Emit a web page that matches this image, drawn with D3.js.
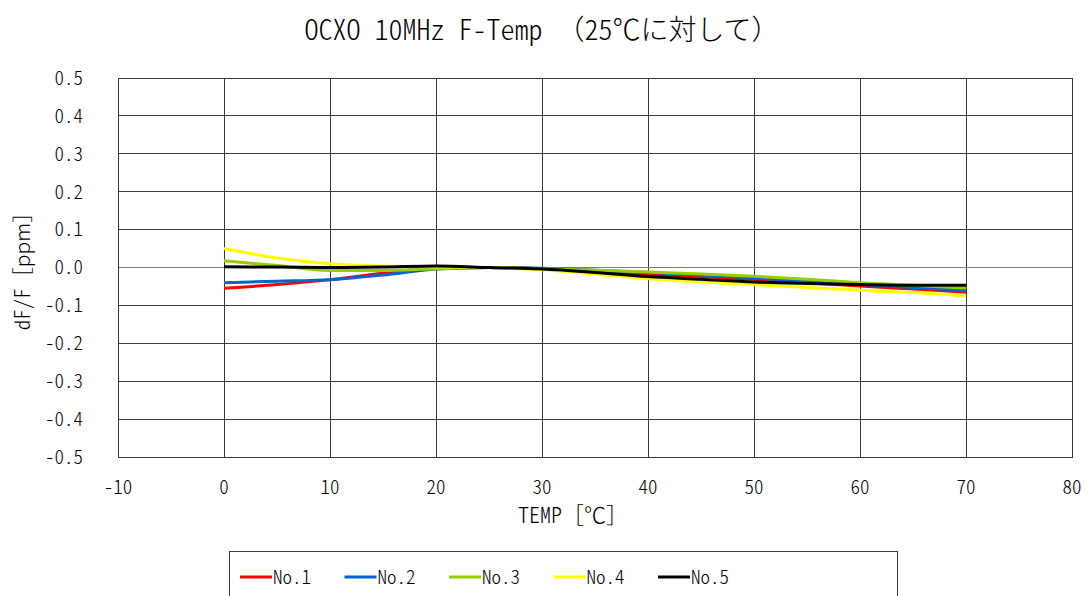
<!DOCTYPE html>
<html>
<head>
<meta charset="utf-8">
<script src="https://cdn.jsdelivr.net/npm/d3@7"></script>
<style>
  body { margin: 0; background: #fff; }
  text { font-family: "Noto Sans CJK JP", sans-serif; font-weight: 300; fill: #000; }
  .hw { font-feature-settings: "hwid"; }
</style>
</head>
<body>
<div id="chart"></div>
<script>
(function() {
    'use strict';

    // data
    const temps = [0, 5, 10, 15, 20, 25, 30, 35, 40, 45, 50, 55, 60, 65, 70];
    const no1 = [-0.055, -0.045, -0.032, -0.015, -0.002, 0, -0.004, -0.010, -0.018, -0.024, -0.031, -0.040, -0.049, -0.057, -0.065];
    const no2 = [-0.040, -0.036, -0.032, -0.020, -0.004, 0, -0.002, -0.007, -0.013, -0.020, -0.028, -0.036, -0.045, -0.053, -0.061];
    const no3 = [0.018, 0.005, -0.008, -0.008, -0.003, 0, -0.003, -0.007, -0.012, -0.017, -0.023, -0.031, -0.040, -0.047, -0.054];
    const no4 = [0.050, 0.025, 0.010, 0.004, 0.002, 0, -0.006, -0.017, -0.030, -0.038, -0.045, -0.053, -0.060, -0.066, -0.075];
    const no5 = [0.002, 0.001, 0.000, 0.001, 0.004, 0, -0.004, -0.013, -0.024, -0.031, -0.038, -0.042, -0.045, -0.047, -0.047];
    const seriesNames = ['No.1', 'No.2', 'No.3', 'No.4', 'No.5'];
    const seriesColors = ['#ff0000', '#0066cc', '#99cc00', '#ffff00', '#000000'];
    const xTicks = [-10, 0, 10, 20, 30, 40, 50, 60, 70, 80];
    const yTicks = [-0.5, -0.4, -0.3, -0.2, -0.1, 0, 0.1, 0.2, 0.3, 0.4, 0.5];

    const allSeries = [no1, no2, no3, no4, no5].map((vals, i) => ({
        name: seriesNames[i],
        color: seriesColors[i],
        points: temps.map((t, j) => ({ t: t, v: vals[j] }))
    }));

    const width = 1088, height = 596;
    const plot = { left: 118, right: 1072, top: 78, bottom: 457 };

    const svg = d3.select('#chart').append('svg')
        .attr('width', width)
        .attr('height', height);

    const x = d3.scaleLinear().domain([-10, 80]).range([plot.left, plot.right]);
    const y = d3.scaleLinear().domain([-0.5, 0.5]).range([plot.bottom, plot.top]);
    const fmtY = d => d3.format('.1f')(d).replace('−', '-');
    const fmtX = d => String(d);

    // mixed text: latin parts half-width, japanese parts full-width
    const mixedText = (sel, parts) => {
        parts.forEach(p => {
            sel.append('tspan').attr('class', p[1] ? 'hw' : null).text(p[0]);
        });
        return sel;
    };

    // gridlines
    svg.append('g').selectAll('line').data(xTicks).enter().append('line')
        .attr('x1', d => x(d)).attr('x2', d => x(d))
        .attr('y1', plot.top).attr('y2', plot.bottom)
        .attr('stroke', '#3a3a3a').attr('stroke-width', 1)
        .attr('shape-rendering', 'crispEdges');

    svg.append('g').selectAll('line').data(yTicks).enter().append('line')
        .attr('x1', plot.left).attr('x2', plot.right)
        .attr('y1', d => y(d)).attr('y2', d => y(d))
        .attr('stroke', d => d === 0 ? '#808080' : '#3a3a3a').attr('stroke-width', 1)
        .attr('shape-rendering', 'crispEdges');

    svg.append('rect')
        .attr('x', plot.left).attr('y', plot.top)
        .attr('width', plot.right - plot.left).attr('height', plot.bottom - plot.top)
        .attr('fill', 'none').attr('stroke', '#3a3a3a')
        .attr('shape-rendering', 'crispEdges');

    // tick labels
    svg.append('g').selectAll('text').data(yTicks).enter().append('text')
        .attr('class', 'hw')
        .attr('x', 83)
        .attr('y', d => y(d))
        .attr('dy', '0.36em')
        .attr('text-anchor', 'end')
        .style('font-size', '19px')
        .text(fmtY);

    svg.append('g').selectAll('text').data(xTicks).enter().append('text')
        .attr('class', 'hw')
        .attr('x', d => x(d))
        .attr('y', 487)
        .attr('dy', '0.36em')
        .attr('text-anchor', 'middle')
        .style('font-size', '19px')
        .text(fmtX);

    // series
    const line = d3.line()
        .x(d => x(d.t))
        .y(d => y(d.v))
        .curve(d3.curveMonotoneX);

    svg.append('g').selectAll('path').data(allSeries).enter().append('path')
        .attr('d', d => line(d.points))
        .attr('fill', 'none')
        .attr('stroke', d => d.color)
        .attr('stroke-width', 3)
        .attr('stroke-linejoin', 'round');

    // titles
    mixedText(svg.append('text')
        .attr('x', 542).attr('y', 30)
        .attr('dy', '0.36em')
        .attr('text-anchor', 'middle')
        .style('font-size', '28px'),
        [['OCXO 10MHz F-Temp ', true], ['（', false], ['25', true], ['℃に対して）', false]]);

    mixedText(svg.append('text')
        .attr('transform', 'translate(22,266) rotate(-90)')
        .attr('dy', '0.36em')
        .attr('text-anchor', 'middle')
        .style('font-size', '21px'),
        [['dF/F', true], ['［ppm］', false]]);

    mixedText(svg.append('text')
        .attr('x', 573).attr('y', 515)
        .attr('dy', '0.36em')
        .attr('text-anchor', 'middle')
        .style('font-size', '22px'),
        [['TEMP', true], ['［℃］', false]]);

    // legend
    const legend = svg.append('g');
    legend.append('rect')
        .attr('x', 229.5).attr('y', 551.5)
        .attr('width', 668).attr('height', 60)
        .attr('fill', '#fff').attr('stroke', '#3a3a3a');

    const item = legend.selectAll('g').data(allSeries).enter().append('g')
        .attr('transform', (d, i) => `translate(${240 + i * 104.5},577)`);
    item.append('line')
        .attr('x1', 0).attr('x2', 32)
        .attr('stroke', d => d.color).attr('stroke-width', 3);
    item.append('text')
        .attr('class', 'hw')
        .attr('x', 33)
        .attr('dy', '0.36em')
        .style('font-size', '19px')
        .text(d => d.name);
}());
</script>
</body>
</html>
